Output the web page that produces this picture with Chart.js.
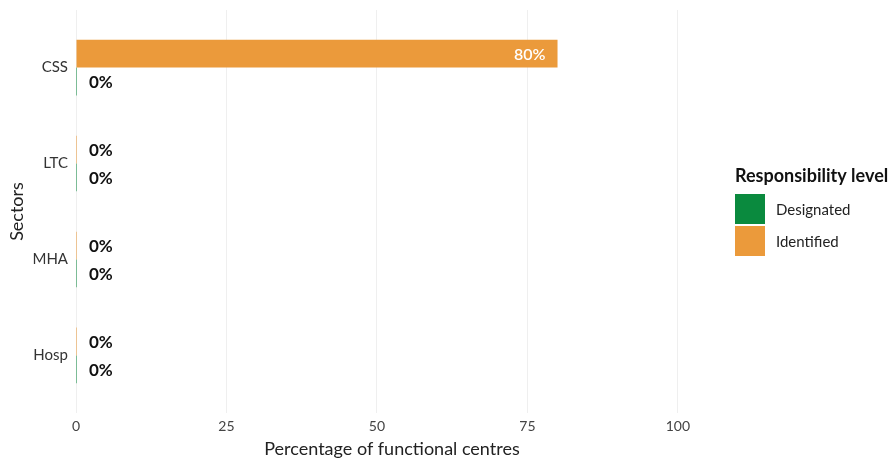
<!DOCTYPE html>
<html>
<head>
<meta charset="utf-8">
<script src="https://cdn.jsdelivr.net/npm/chart.js@4.4.1/dist/chart.umd.min.js"></script>
<style>
  html, body { margin: 0; padding: 0; background: #fff; }
  #wrap { width: 893px; height: 460px; position: relative; }
</style>
</head>
<body>
<div id="wrap"><canvas id="chart"></canvas></div>
<script>
// data
const sectors = ['CSS', 'LTC', 'MHA', 'Hosp'];
const identified = [80, 0, 0, 0];
const designated = [0, 0, 0, 0];
const xTicks = [0, 25, 50, 75, 100];
const legendTitle = 'Responsibility level';

const ORANGE = '#EB9A3B';
const GREEN = '#0A8A3E';
const FONT = 'Lato, "Open Sans", sans-serif';

// bar value labels: zero values sit right of the axis in black, big values inside the bar in white
const valueLabels = {
  id: 'valueLabels',
  afterDatasetsDraw(chart) {
    const ctx = chart.ctx;
    ctx.save();
    ctx.textBaseline = 'middle';
    chart.data.datasets.forEach((ds, i) => {
      const meta = chart.getDatasetMeta(i);
      meta.data.forEach((bar, j) => {
        const v = ds.data[j].x;
        const txt = v + '%';
        if (v > 10) {
          ctx.font = '600 16px ' + FONT;
          ctx.fillStyle = '#ffffff';
          ctx.textAlign = 'right';
          ctx.fillText(txt, bar.x - 12, bar.y + 1);
        } else {
          ctx.font = 'bold 17px ' + FONT;
          ctx.fillStyle = '#111111';
          ctx.textAlign = 'left';
          ctx.fillText(txt, bar.x + 12, bar.y + 1);
        }
      });
    });
    ctx.restore();
  }
};

// legend drawn to the right of the panel, like the original
const sideLegend = {
  id: 'sideLegend',
  afterDraw(chart) {
    const ctx = chart.ctx;
    const left = chart.chartArea.right + 27;
    let top = 176;
    ctx.save();
    ctx.textBaseline = 'middle';
    ctx.textAlign = 'left';
    ctx.fillStyle = '#111';
    ctx.font = 'bold 18px ' + FONT;
    ctx.fillText(legendTitle, left, top);
    top += 18;
    const items = [chart.data.datasets[1], chart.data.datasets[0]];
    items.forEach(ds => {
      ctx.fillStyle = ds.backgroundColor;
      ctx.fillRect(left, top, 30, 30);
      ctx.fillStyle = '#222';
      ctx.font = '15px ' + FONT;
      ctx.fillText(ds.label, left + 41, top + 16);
      top += 32;
    });
    ctx.restore();
  }
};

new Chart(document.getElementById('chart'), {
  type: 'bar',
  data: {
    datasets: [
      {
        label: 'Identified',
        data: identified.map((v, i) => ({ x: v, y: i })),
        backgroundColor: ORANGE,
        minBarLength: 1
      },
      {
        label: 'Designated',
        data: designated.map((v, i) => ({ x: v, y: i })),
        backgroundColor: GREEN,
        minBarLength: 1
      }
    ]
  },
  plugins: [valueLabels, sideLegend],
  options: {
    indexAxis: 'y',
    responsive: true,
    maintainAspectRatio: false,
    animation: false,
    categoryPercentage: 0.58,
    barPercentage: 1,
    layout: { padding: { top: 10, right: 185, left: 0, bottom: 0 } },
    plugins: {
      legend: { display: false },
      tooltip: { enabled: false }
    },
    scales: {
      x: {
        type: 'linear',
        min: 0,
        max: 105,
        afterBuildTicks: s => { s.ticks = xTicks.map(v => ({ value: v })); },
        afterFit: s => { s.height = 47; s.paddingLeft = 0; s.paddingRight = 0; },
        border: { display: false },
        grid: { color: '#efefef', drawTicks: false },
        ticks: { color: '#444', font: { family: FONT, size: 14 }, padding: 5 },
        title: {
          display: true,
          text: 'Percentage of functional centres',
          color: '#222',
          font: { family: FONT, size: 18 },
          padding: { top: 0, bottom: 0 }
        }
      },
      y: {
        type: 'linear',
        offset: false,
        min: -0.6,
        max: 3.6,
        reverse: true,
        afterBuildTicks: s => { s.ticks = sectors.map((c, i) => ({ value: i })); },
        afterFit: s => { s.width = 76; s.paddingTop = 0; s.paddingBottom = 0; },
        border: { display: false },
        grid: { display: false, drawTicks: false },
        ticks: {
          color: '#333',
          font: { family: FONT, size: 15 },
          padding: 8,
          callback: v => sectors[v]
        },
        title: {
          display: true,
          text: 'Sectors',
          color: '#222',
          font: { family: FONT, size: 18 },
          padding: { top: 6, bottom: 0 }
        }
      }
    }
  }
});
</script>
</body>
</html>
